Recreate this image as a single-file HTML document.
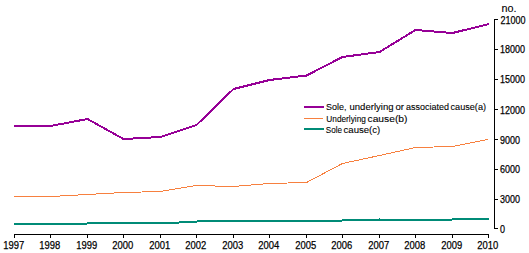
<!DOCTYPE html><html><head><meta charset="utf-8"><style>html,body{margin:0;padding:0;background:#fff;width:529px;height:253px;overflow:hidden}svg{display:block}text{font-family:"Liberation Sans",sans-serif;fill:#000;stroke:#000;stroke-width:0.1px}text.ax{stroke-width:0.25px}</style></head><body>
<svg width="529" height="253" viewBox="0 0 529 253">
<g fill="#000" shape-rendering="crispEdges">
<rect x="14" y="234" width="475" height="1"/>
<rect x="14" y="234" width="1" height="4"/>
<rect x="50" y="234" width="1" height="4"/>
<rect x="87" y="234" width="1" height="4"/>
<rect x="123" y="234" width="1" height="4"/>
<rect x="160" y="234" width="1" height="4"/>
<rect x="196" y="234" width="1" height="4"/>
<rect x="233" y="234" width="1" height="4"/>
<rect x="269" y="234" width="1" height="4"/>
<rect x="306" y="234" width="1" height="4"/>
<rect x="342" y="234" width="1" height="4"/>
<rect x="379" y="234" width="1" height="4"/>
<rect x="415" y="234" width="1" height="4"/>
<rect x="452" y="234" width="1" height="4"/>
<rect x="488" y="234" width="1" height="4"/>
<rect x="494" y="19" width="1" height="210"/>
<rect x="494" y="19" width="4" height="1"/>
<rect x="494" y="49" width="4" height="1"/>
<rect x="494" y="79" width="4" height="1"/>
<rect x="494" y="109" width="4" height="1"/>
<rect x="494" y="139" width="4" height="1"/>
<rect x="494" y="169" width="4" height="1"/>
<rect x="494" y="199" width="4" height="1"/>
<rect x="494" y="228" width="4" height="1"/>
</g>
<text class="ax" x="13.7" y="249" font-size="11.5" text-anchor="middle" textLength="21" lengthAdjust="spacingAndGlyphs">1997</text>
<text class="ax" x="49.7" y="249" font-size="11.5" text-anchor="middle" textLength="21" lengthAdjust="spacingAndGlyphs">1998</text>
<text class="ax" x="86.7" y="249" font-size="11.5" text-anchor="middle" textLength="21" lengthAdjust="spacingAndGlyphs">1999</text>
<text class="ax" x="122.7" y="249" font-size="11.5" text-anchor="middle" textLength="21" lengthAdjust="spacingAndGlyphs">2000</text>
<text class="ax" x="159.7" y="249" font-size="11.5" text-anchor="middle" textLength="21" lengthAdjust="spacingAndGlyphs">2001</text>
<text class="ax" x="195.7" y="249" font-size="11.5" text-anchor="middle" textLength="21" lengthAdjust="spacingAndGlyphs">2002</text>
<text class="ax" x="232.7" y="249" font-size="11.5" text-anchor="middle" textLength="21" lengthAdjust="spacingAndGlyphs">2003</text>
<text class="ax" x="268.7" y="249" font-size="11.5" text-anchor="middle" textLength="21" lengthAdjust="spacingAndGlyphs">2004</text>
<text class="ax" x="305.7" y="249" font-size="11.5" text-anchor="middle" textLength="21" lengthAdjust="spacingAndGlyphs">2005</text>
<text class="ax" x="341.7" y="249" font-size="11.5" text-anchor="middle" textLength="21" lengthAdjust="spacingAndGlyphs">2006</text>
<text class="ax" x="378.7" y="249" font-size="11.5" text-anchor="middle" textLength="21" lengthAdjust="spacingAndGlyphs">2007</text>
<text class="ax" x="414.7" y="249" font-size="11.5" text-anchor="middle" textLength="21" lengthAdjust="spacingAndGlyphs">2008</text>
<text class="ax" x="451.7" y="249" font-size="11.5" text-anchor="middle" textLength="21" lengthAdjust="spacingAndGlyphs">2009</text>
<text class="ax" x="487.7" y="249" font-size="11.5" text-anchor="middle" textLength="21" lengthAdjust="spacingAndGlyphs">2010</text>
<text class="ax" x="500.6" y="23.7" font-size="11.5" textLength="25" lengthAdjust="spacingAndGlyphs">21000</text>
<text class="ax" x="500" y="53" font-size="11.5" textLength="25" lengthAdjust="spacingAndGlyphs">18000</text>
<text class="ax" x="500" y="83" font-size="11.5" textLength="25" lengthAdjust="spacingAndGlyphs">15000</text>
<text class="ax" x="500" y="114" font-size="11.5" textLength="25" lengthAdjust="spacingAndGlyphs">12000</text>
<text class="ax" x="500" y="144" font-size="11.5" textLength="20" lengthAdjust="spacingAndGlyphs">9000</text>
<text class="ax" x="500" y="173" font-size="11.5" textLength="20" lengthAdjust="spacingAndGlyphs">6000</text>
<text class="ax" x="500" y="203" font-size="11.5" textLength="20" lengthAdjust="spacingAndGlyphs">3000</text>
<text class="ax" x="500" y="233" font-size="11.5" textLength="5" lengthAdjust="spacingAndGlyphs">0</text>
<text x="501.6" y="12" font-size="11.2" textLength="15" lengthAdjust="spacingAndGlyphs">no.</text>
<polyline fill="none" stroke="#f7803f" stroke-width="1" shape-rendering="crispEdges" points="14,196.5 50.5,196.5 87.5,194.5 123.5,192.5 160.5,191.5 196.5,185.5 233.5,186.5 269.5,183.5 306.5,182.5 342.5,163.5 379.5,155.5 415.5,147.5 452.5,146.5 488,139.5" />
<g fill="#008b77" shape-rendering="crispEdges"><rect x="14" y="223" width="73" height="2"/><rect x="87" y="222" width="92" height="2"/><rect x="179" y="221" width="18" height="2"/><rect x="197" y="220" width="145" height="2"/><rect x="342" y="219" width="110" height="2"/><rect x="452" y="218" width="37" height="2"/><rect x="379" y="218" width="1" height="1"/></g>
<polyline fill="none" stroke="#960096" stroke-width="2" shape-rendering="crispEdges" points="14,126 50.5,126 87.5,119 123.5,139 160.5,137 196.5,125 233.5,89 269.5,80 306.5,75.5 342.5,57 379.5,52 415.5,30 452.5,33 489,24" />
<g shape-rendering="crispEdges">
<rect x="304" y="106" width="20" height="2" fill="#960096"/>
<rect x="304" y="118" width="19" height="1" fill="#f7803f"/>
<rect x="304" y="128" width="20" height="2" fill="#008b77"/>
</g>
<text x="326.00" y="110" font-size="9.6" textLength="20.50" lengthAdjust="spacingAndGlyphs">Sole,</text>
<text x="349.50" y="110" font-size="9.6" textLength="44.00" lengthAdjust="spacingAndGlyphs">underlying</text>
<text x="395.50" y="110" font-size="9.6" textLength="8.50" lengthAdjust="spacingAndGlyphs">or</text>
<text x="406.00" y="110" font-size="9.6" textLength="43.00" lengthAdjust="spacingAndGlyphs">associated</text>
<text x="450.50" y="110" font-size="9.6" textLength="35.50" lengthAdjust="spacingAndGlyphs">cause(a)</text>
<text x="326.30" y="122" font-size="9.6" textLength="39.60" lengthAdjust="spacingAndGlyphs">Underlying</text>
<text x="367.50" y="122" font-size="9.6" textLength="40.00" lengthAdjust="spacingAndGlyphs">cause(b)</text>
<text x="325.80" y="133" font-size="9.6" textLength="16.30" lengthAdjust="spacingAndGlyphs">Sole</text>
<text x="343.50" y="133" font-size="9.6" textLength="36.80" lengthAdjust="spacingAndGlyphs">cause(c)</text>
</svg></body></html>
